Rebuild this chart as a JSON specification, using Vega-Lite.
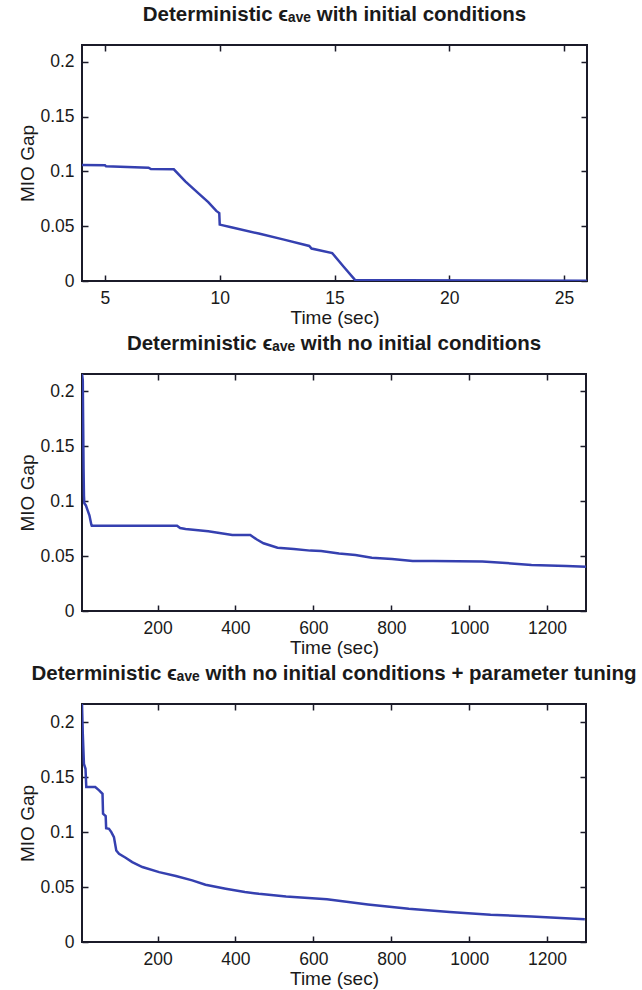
{
  "$schema": "https://vega.github.io/schema/vega-lite/v6.json",
  "background": "white",
  "padding": {"left": 17, "top": 3, "right": 0, "bottom": 0},
  "spacing": 93,
  "bounds": "flush",
  "vconcat": [
    {
      "title": {"text": "Deterministic ϵₐᵥₑ with initial conditions"},
      "width": 505,
      "height": 236,
      "data": {"values": [
        {"t": 4.0, "gap": 0.1059}, {"t": 5.0, "gap": 0.1057}, {"t": 5.05, "gap": 0.1047}, {"t": 6.9, "gap": 0.1035},
        {"t": 7.0, "gap": 0.1022}, {"t": 8.0, "gap": 0.102}, {"t": 8.5, "gap": 0.091}, {"t": 9.1, "gap": 0.0795},
        {"t": 9.5, "gap": 0.072}, {"t": 9.85, "gap": 0.064}, {"t": 9.98, "gap": 0.062}, {"t": 10.0, "gap": 0.0515},
        {"t": 10.5, "gap": 0.049}, {"t": 11.7, "gap": 0.0433}, {"t": 12.8, "gap": 0.0378}, {"t": 13.9, "gap": 0.032},
        {"t": 14.0, "gap": 0.0296}, {"t": 14.9, "gap": 0.0255}, {"t": 15.4, "gap": 0.013}, {"t": 15.9, "gap": 0.0008},
        {"t": 18.0, "gap": 0.0007}, {"t": 22.0, "gap": 0.0004}, {"t": 26.0, "gap": 0.0002}
      ]},
      "layer": [
        {
          "mark": {"type": "line", "color": "#3540b0", "strokeWidth": 2.5, "clip": true},
          "encoding": {
            "x": {"field": "t", "type": "quantitative", "scale": {"domain": [4, 26], "nice": false, "zero": false},
                  "axis": {"orient": "bottom", "values": [5, 10, 15, 20, 25], "title": "Time (sec)"}},
            "y": {"field": "gap", "type": "quantitative", "scale": {"domain": [0, 0.2155], "nice": false},
                  "axis": {"orient": "left", "values": [0, 0.05, 0.1, 0.15, 0.2], "format": "~g", "title": "MIO Gap"}}
          }
        },
        {
          "mark": {"type": "line", "opacity": 0},
          "encoding": {
            "x": {"field": "t", "type": "quantitative", "scale": {"domain": [4, 26], "nice": false, "zero": false},
                  "axis": {"orient": "top", "values": [5, 10, 15, 20, 25], "labels": false, "title": null}},
            "y": {"field": "gap", "type": "quantitative", "scale": {"domain": [0, 0.2155], "nice": false},
                  "axis": {"orient": "right", "values": [0, 0.05, 0.1, 0.15, 0.2], "labels": false, "title": null}}
          }
        }
      ],
      "resolve": {"axis": {"x": "independent", "y": "independent"}}
    },
    {
      "title": {"text": "Deterministic ϵₐᵥₑ with no initial conditions"},
      "width": 504,
      "height": 237,
      "data": {"values": [
        {"t": 6, "gap": 0.2157}, {"t": 8, "gap": 0.21}, {"t": 9, "gap": 0.17}, {"t": 10, "gap": 0.13},
        {"t": 11, "gap": 0.105}, {"t": 12, "gap": 0.098}, {"t": 16, "gap": 0.096}, {"t": 20, "gap": 0.092},
        {"t": 25, "gap": 0.087}, {"t": 30, "gap": 0.0785}, {"t": 31, "gap": 0.0776}, {"t": 250, "gap": 0.0776},
        {"t": 258, "gap": 0.0755}, {"t": 272, "gap": 0.0746}, {"t": 330, "gap": 0.0725}, {"t": 392, "gap": 0.0692},
        {"t": 438, "gap": 0.0692}, {"t": 455, "gap": 0.065}, {"t": 472, "gap": 0.0616}, {"t": 508, "gap": 0.0576},
        {"t": 550, "gap": 0.0564}, {"t": 592, "gap": 0.0549}, {"t": 620, "gap": 0.0545}, {"t": 666, "gap": 0.0522},
        {"t": 708, "gap": 0.051}, {"t": 750, "gap": 0.0485}, {"t": 802, "gap": 0.0473}, {"t": 855, "gap": 0.0455},
        {"t": 908, "gap": 0.0455}, {"t": 1034, "gap": 0.0449}, {"t": 1108, "gap": 0.0433}, {"t": 1160, "gap": 0.0419},
        {"t": 1250, "gap": 0.041}, {"t": 1300, "gap": 0.0403}
      ]},
      "layer": [
        {
          "mark": {"type": "line", "color": "#3540b0", "strokeWidth": 2.5, "clip": true},
          "encoding": {
            "x": {"field": "t", "type": "quantitative", "scale": {"domain": [6, 1300], "nice": false, "zero": false},
                  "axis": {"orient": "bottom", "values": [200, 400, 600, 800, 1000, 1200], "format": "d", "title": "Time (sec)"}},
            "y": {"field": "gap", "type": "quantitative", "scale": {"domain": [0, 0.2155], "nice": false},
                  "axis": {"orient": "left", "values": [0, 0.05, 0.1, 0.15, 0.2], "format": "~g", "title": "MIO Gap"}}
          }
        },
        {
          "mark": {"type": "line", "opacity": 0},
          "encoding": {
            "x": {"field": "t", "type": "quantitative", "scale": {"domain": [6, 1300], "nice": false, "zero": false},
                  "axis": {"orient": "top", "values": [200, 400, 600, 800, 1000, 1200], "labels": false, "title": null}},
            "y": {"field": "gap", "type": "quantitative", "scale": {"domain": [0, 0.2155], "nice": false},
                  "axis": {"orient": "right", "values": [0, 0.05, 0.1, 0.15, 0.2], "labels": false, "title": null}}
          }
        }
      ],
      "resolve": {"axis": {"x": "independent", "y": "independent"}}
    },
    {
      "title": {"text": "Deterministic ϵₐᵥₑ with no initial conditions + parameter tuning"},
      "width": 504,
      "height": 238,
      "data": {"values": [
        {"t": 6, "gap": 0.2166}, {"t": 8, "gap": 0.19}, {"t": 11, "gap": 0.162}, {"t": 15, "gap": 0.1576},
        {"t": 17, "gap": 0.141}, {"t": 40, "gap": 0.141}, {"t": 50, "gap": 0.138}, {"t": 58.7, "gap": 0.1348},
        {"t": 60, "gap": 0.1167}, {"t": 66.8, "gap": 0.1145}, {"t": 68, "gap": 0.1036}, {"t": 75.3, "gap": 0.103},
        {"t": 81.3, "gap": 0.1}, {"t": 88, "gap": 0.0955}, {"t": 94, "gap": 0.0833}, {"t": 101, "gap": 0.0803},
        {"t": 118, "gap": 0.0767}, {"t": 135, "gap": 0.0727}, {"t": 161, "gap": 0.0682}, {"t": 204, "gap": 0.0636},
        {"t": 247, "gap": 0.06}, {"t": 289, "gap": 0.0561}, {"t": 323, "gap": 0.0521}, {"t": 375, "gap": 0.0485},
        {"t": 424, "gap": 0.0455}, {"t": 460, "gap": 0.0439}, {"t": 530, "gap": 0.0414}, {"t": 635, "gap": 0.0388},
        {"t": 740, "gap": 0.0342}, {"t": 845, "gap": 0.0303}, {"t": 950, "gap": 0.0273}, {"t": 1055, "gap": 0.0248},
        {"t": 1160, "gap": 0.0233}, {"t": 1297, "gap": 0.0206}
      ]},
      "layer": [
        {
          "mark": {"type": "line", "color": "#3540b0", "strokeWidth": 2.5, "clip": true},
          "encoding": {
            "x": {"field": "t", "type": "quantitative", "scale": {"domain": [6, 1300], "nice": false, "zero": false},
                  "axis": {"orient": "bottom", "values": [200, 400, 600, 800, 1000, 1200], "format": "d", "title": "Time (sec)"}},
            "y": {"field": "gap", "type": "quantitative", "scale": {"domain": [0, 0.2166], "nice": false},
                  "axis": {"orient": "left", "values": [0, 0.05, 0.1, 0.15, 0.2], "format": "~g", "title": "MIO Gap"}}
          }
        },
        {
          "mark": {"type": "line", "opacity": 0},
          "encoding": {
            "x": {"field": "t", "type": "quantitative", "scale": {"domain": [6, 1300], "nice": false, "zero": false},
                  "axis": {"orient": "top", "values": [200, 400, 600, 800, 1000, 1200], "labels": false, "title": null}},
            "y": {"field": "gap", "type": "quantitative", "scale": {"domain": [0, 0.2166], "nice": false},
                  "axis": {"orient": "right", "values": [0, 0.05, 0.1, 0.15, 0.2], "labels": false, "title": null}}
          }
        }
      ],
      "resolve": {"axis": {"x": "independent", "y": "independent"}}
    }
  ],
  "config": {
    "view": {"stroke": "#1b1b29", "strokeWidth": 2},
    "axis": {
      "domain": false,
      "grid": false,
      "ticks": true,
      "tickSize": -6,
      "tickColor": "#1b1b29",
      "tickWidth": 1.5,
      "labelFont": "Liberation Sans",
      "labelFontSize": 17.5,
      "labelColor": "#1a1a1a",
      "labelPadding": 14,
      "titleFont": "Liberation Sans",
      "titleFontSize": 19,
      "titleFontWeight": "normal",
      "titleColor": "#1a1a1a",
      "titlePadding": 2
    },
    "title": {
      "font": "Liberation Sans",
      "fontSize": 20.5,
      "fontWeight": "bold",
      "color": "#1a1a1a",
      "frame": "group",
      "anchor": "middle",
      "baseline": "alphabetic",
      "offset": 19
    }
  }
}
